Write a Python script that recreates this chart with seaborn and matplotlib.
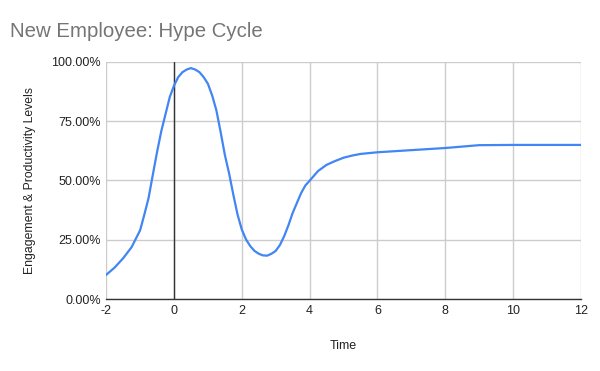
import matplotlib
matplotlib.use("Agg")
import matplotlib.pyplot as plt
import seaborn as sns
import pandas as pd
from matplotlib.ticker import PercentFormatter

# Values
time = [-2, -1.75, -1.5, -1.25, -1, -0.875, -0.75, -0.625, -0.5, -0.375, -0.25, -0.125,
        0, 0.125, 0.25, 0.375, 0.5, 0.625, 0.75, 0.875, 1, 1.125, 1.25, 1.375,
        1.5, 1.625, 1.75, 1.875, 2, 2.125, 2.25, 2.375, 2.5, 2.625, 2.75, 2.875,
        3, 3.125, 3.25, 3.375, 3.5, 3.625, 3.75, 3.875, 4, 4.25, 4.5, 4.75,
        5, 5.25, 5.5, 6, 7, 8, 9, 10, 11, 12]
level = [0.102, 0.133, 0.172, 0.219, 0.29, 0.356, 0.426, 0.524, 0.62, 0.708, 0.78, 0.852,
         0.90, 0.936, 0.957, 0.968, 0.974, 0.968, 0.957, 0.936, 0.908, 0.859, 0.796, 0.705,
         0.608, 0.53, 0.44, 0.356, 0.293, 0.251, 0.223, 0.203, 0.191, 0.184, 0.183, 0.191,
         0.203, 0.228, 0.265, 0.311, 0.363, 0.405, 0.447, 0.479, 0.499, 0.54, 0.566, 0.582,
         0.596, 0.605, 0.612, 0.619, 0.628, 0.637, 0.649, 0.65, 0.65, 0.65]
x_ticks = [-2, 0, 2, 4, 6, 8, 10, 12]
y_ticks = [0, 0.25, 0.5, 0.75, 1.0]

df = pd.DataFrame({"Time": time, "Level": level})

sns.set_style("white")
plt.rcParams['font.family'] = ['Liberation Sans', 'DejaVu Sans']
plt.rcParams['axes.unicode_minus'] = False

fig = plt.figure(figsize=(6, 3.71), dpi=100)
ax = fig.add_axes([0.177, 0.194, 0.791, 0.639])

ax.grid(True, color='#cccccc', linewidth=1)
ax.set_axisbelow(True)
ax.axvline(0, color='#333333', linewidth=1, zorder=1)

sns.lineplot(data=df, x='Time', y='Level', color='#4285f4', linewidth=1.6, ax=ax, zorder=3,
             solid_joinstyle='round', solid_capstyle='round')

ax.set_xlim(-2, 12)
ax.set_ylim(0, 1)
ax.set_xticks(x_ticks)
ax.set_yticks(y_ticks)
ax.yaxis.set_major_formatter(PercentFormatter(1.0, decimals=2))
ax.tick_params(axis='both', length=0, labelsize=9, colors='#222222', pad=4)

for side in ['top', 'right', 'left']:
    ax.spines[side].set_visible(False)
ax.spines['bottom'].set_color('#333333')
ax.spines['bottom'].set_linewidth(1)

ax.set_xlabel('Time', fontsize=9, color='#222222', labelpad=17)
ax.set_ylabel('Engagement & Productivity Levels', fontsize=8.8, color='#222222', labelpad=11)

fig.text(0.017, 0.915, 'New Employee: Hype Cycle', fontsize=14.7, color='#757575', ha='left', va='center')

fig.savefig('out.png', dpi=100)
